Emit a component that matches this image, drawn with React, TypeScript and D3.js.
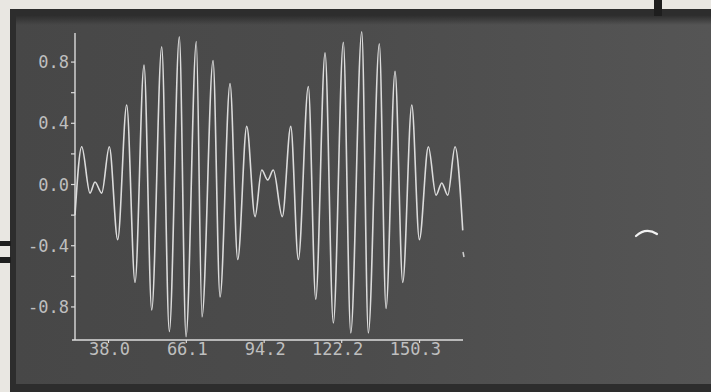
import React from "react";
import * as d3 from "d3";

// Extrema of the plotted signal (x in plot units)
const sampleX = [
  25.9, 28.32, 31.32, 33.12, 35.54, 38.29, 41.32, 44.57, 47.57, 50.82,
  53.6, 57.21, 59.96, 63.57, 65.99, 69.71, 71.76, 75.74, 78.27, 81.88,
  84.66, 87.91, 90.91, 93.32, 95.49, 97.51, 100.76, 103.8, 106.54, 110.15,
  112.83, 116.19, 119.18, 122.79, 125.47, 129.44, 131.82, 135.79, 138.21, 141.46,
  144.24, 147.5, 150.24, 153.49, 156.27, 158.33, 160.5, 163.13, 165.91,
];
const signalY = [
  -0.2, 0.247, -0.056, 0.016, -0.056, 0.247, -0.36, 0.52, -0.64, 0.78,
  -0.82, 0.9, -0.96, 0.965, -0.994, 0.934, -0.865, 0.81, -0.735, 0.66,
  -0.49, 0.38, -0.21, 0.095, 0.03, 0.095, -0.21, 0.38, -0.49, 0.64,
  -0.75, 0.86, -0.905, 0.93, -0.97, 0.998, -0.97, 0.92, -0.81, 0.74,
  -0.64, 0.52, -0.36, 0.247, -0.07, 0.01, -0.07, 0.247, -0.3,
];

const xTickValues = [38.0, 66.1, 94.2, 122.2, 150.3];
const xTickLabels = ["38.0", "66.1", "94.2", "122.2", "150.3"];
const yTickValues = [0.8, 0.4, 0.0, -0.4, -0.8];
const yTickLabels = ["0.8", "0.4", "0.0", "-0.4", "-0.8"];
const yMinorTicks = [0.8, 0.6, 0.4, 0.2, 0.0, -0.2, -0.4, -0.6, -0.8];

const W = 711;
const H = 392;

export default function App() {
  const x = d3.scaleLinear().domain([25.9, 166.0]).range([75, 463]);
  const y = d3.scaleLinear().domain([-1.016, 0.99]).range([340, 33]);

  const pts: [number, number][] = sampleX.map((v, i) => [v, signalY[i]]);
  const line = d3
    .line<[number, number]>()
    .x((d) => x(d[0]))
    .y((d) => y(d[1]))
    .curve(d3.curveMonotoneX);

  const fg = "#dcdcdc";
  const txt = "#bfbfbf";
  const font = "'DejaVu Sans Mono', 'Liberation Mono', monospace";

  return (
    <svg
      width={W}
      height={H}
      style={{ position: "fixed", left: 0, top: 0, display: "block" }}
    >
      <defs>
        <linearGradient id="scr" x1="0" y1="0" x2="1" y2="0">
          <stop offset="0" stopColor="#474747" />
          <stop offset="0.5" stopColor="#4c4c4c" />
          <stop offset="1" stopColor="#555555" />
        </linearGradient>
        <linearGradient id="topShade" x1="0" y1="0" x2="0" y2="1">
          <stop offset="0" stopColor="#2c2c2c" />
          <stop offset="1" stopColor="#2c2c2c" stopOpacity="0" />
        </linearGradient>
      </defs>
      {/* paper around the screen */}
      <rect x={0} y={0} width={W} height={H} fill="#e9e7e2" />
      {/* dark bezel */}
      <rect x={10} y={9} width={W - 10} height={H - 9} fill="#2d2d2d" />
      {/* screen */}
      <rect x={16} y={15} width={W - 16} height={369} fill="url(#scr)" />
      <rect x={16} y={15} width={W - 16} height={10} fill="url(#topShade)" />
      {/* black line on the paper at top */}
      <rect x={654} y={0} width={8} height={16} fill="#1e1e1e" />
      {/* marks on the paper at left */}
      <rect x={0} y={241} width={11} height={5} fill="#1f1f1f" />
      <rect x={0} y={257} width={11} height={6} fill="#1f1f1f" />

      {/* axes */}
      <line x1={75} y1={33} x2={75} y2={340} stroke={fg} strokeWidth={1.4} />
      <line x1={72} y1={340} x2={463} y2={340} stroke={fg} strokeWidth={1.4} />
      {yMinorTicks.map((v, i) => (
        <line
          key={"ym" + i}
          x1={71}
          x2={75}
          y1={y(v)}
          y2={y(v)}
          stroke={fg}
          strokeWidth={1.2}
        />
      ))}
      {xTickValues.map((v, i) => (
        <line
          key={"xt" + i}
          x1={x(v)}
          x2={x(v)}
          y1={340}
          y2={343}
          stroke={fg}
          strokeWidth={1.2}
        />
      ))}
      {yTickValues.map((v, i) => (
        <text
          key={"yl" + i}
          x={69}
          y={y(v) + 6}
          textAnchor="end"
          fill={txt}
          fontFamily={font}
          fontSize={17}
        >
          {yTickLabels[i]}
        </text>
      ))}
      {xTickValues.map((v, i) => (
        <text
          key={"xl" + i}
          x={x(v) + 21.5}
          y={355}
          textAnchor="end"
          fill={txt}
          fontFamily={font}
          fontSize={17}
        >
          {xTickLabels[i]}
        </text>
      ))}

      {/* signal */}
      <path
        d={line(pts) || ""}
        fill="none"
        stroke={fg}
        strokeWidth={1.6}
        strokeLinejoin="round"
      />

      {/* small stray marks on the screen */}
      <path d="M463,252 l1,5" stroke="#cfcfcf" strokeWidth={1.5} />
      <path
        d="M636,236 Q646,227 657,234"
        fill="none"
        stroke="#f2f2f2"
        strokeWidth={2.2}
        strokeLinecap="round"
      />
    </svg>
  );
}
